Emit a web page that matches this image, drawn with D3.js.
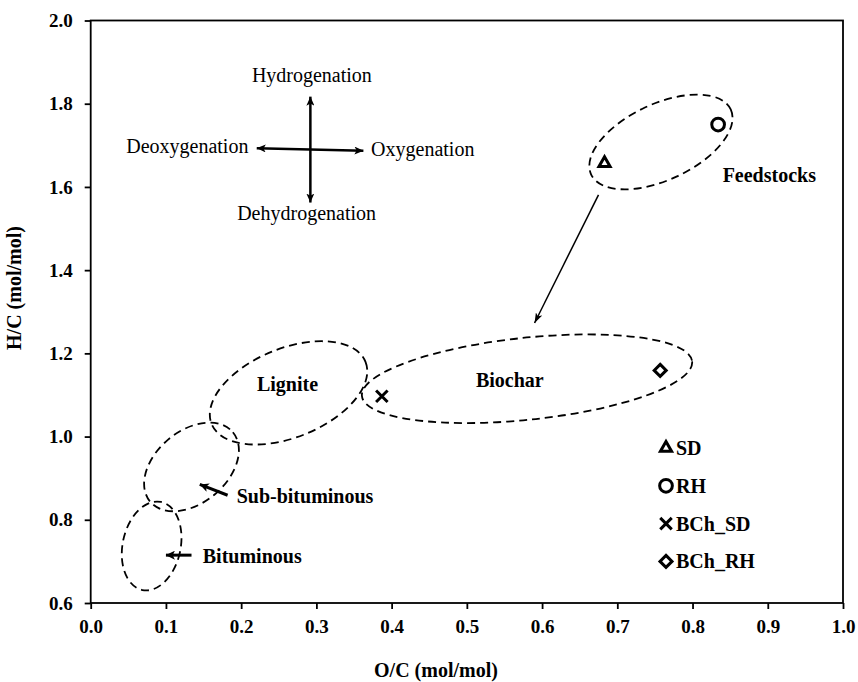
<!DOCTYPE html>
<html>
<head>
<meta charset="utf-8">
<script src="https://cdn.jsdelivr.net/npm/d3@7"></script>
<style>
  body { margin: 0; background: #fff; }
  text { font-family: "Liberation Serif", "Times New Roman", serif; }
</style>
</head>
<body>
<div id="chart"></div>
<script>
// tick values
var xTicks = [0, 0.1, 0.2, 0.3, 0.4, 0.5, 0.6, 0.7, 0.8, 0.9, 1.0]
var yTicks = [0.6, 0.8, 1.0, 1.2, 1.4, 1.6, 1.8, 2.0]

// samples (O/C, H/C)
var seriesNames = ["SD", "RH", "BCh_SD", "BCh_RH"]
var ocValues = [0.683, 0.834, 0.387, 0.757]
var hcValues = [1.657, 1.750, 1.097, 1.159]

// van Krevelen regions (centres in data units)
var regionNames = ["Feedstocks", "Biochar", "Lignite", "Sub-bituminous", "Bituminous"]
var regionCx = [0.758, 0.580, 0.263, 0.134, 0.081]
var regionCy = [1.708, 1.139, 1.105, 0.927, 0.737]
var labelX = [0.840, 0.512, 0.221, 0.194, 0.149]
var labelY = [1.613, 1.119, 1.109, 0.841, 0.697]

// pointer arrows [x1, y1, x2, y2]
var pointerArrows = [
  [0.675, 1.581, 0.590, 1.273],
  [0.182, 0.859, 0.145, 0.885],
  [0.134, 0.715, 0.100, 0.715]
]

// reaction direction cross
var directionNames = ["Hydrogenation", "Dehydrogenation", "Deoxygenation", "Oxygenation"]
var crossLines = [
  [0.292, 1.5625, 0.292, 1.817],
  [0.2207, 1.693, 0.3625, 1.687]
]
var directionX = [0.294, 0.287, 0.2096, 0.3727]
var directionY = [1.853, 1.521, 1.681, 1.675]

// styles
var ellipseRx = [77, 166, 83, 54, 29]
var ellipseRy = [38, 41, 44.5, 36, 45]
var ellipseRot = [-25, -6, -22, -40, 12]
var symbols = [d3.symbolTriangle2, d3.symbolCircle, d3.symbolX, d3.symbolDiamond2]
var symbolSizes = [88, 127, 88, 92]

var W = 858, H = 682
var margin = {top: 20.5, right: 15, bottom: 79, left: 90.7}

var svg = d3.select("#chart").append("svg")
    .attr("width", W)
    .attr("height", H)

var x = d3.scaleLinear().domain([0, 1]).range([margin.left, W - margin.right])
var y = d3.scaleLinear().domain([0.6, 2.0]).range([H - margin.bottom, margin.top])

var defs = svg.append("defs")
function arrowMarker(id, len, wid) {
  defs.append("marker")
      .attr("id", id)
      .attr("markerUnits", "userSpaceOnUse")
      .attr("viewBox", "0 0 " + len + " " + wid)
      .attr("markerWidth", len)
      .attr("markerHeight", wid)
      .attr("refX", len)
      .attr("refY", wid / 2)
      .attr("orient", "auto-start-reverse")
    .append("path")
      .attr("d", "M0,0L" + len + "," + (wid / 2) + "L0," + wid + "L" + (len * 0.25) + "," + (wid / 2) + "Z")
      .attr("fill", "#000")
}
arrowMarker("headCross", 9, 8)
arrowMarker("headThin", 10, 7)
arrowMarker("headThick", 9, 9)

// axes
svg.append("g")
    .attr("transform", "translate(0," + y(0.6) + ")")
    .call(d3.axisBottom(x).tickValues(xTicks).tickSize(6).tickPadding(11).tickFormat(d3.format(".1f")))
    .call(function(g) { g.select(".domain").remove() })
    .call(function(g) {
      g.selectAll("line").attr("stroke-width", 1.8)
      g.selectAll("text").attr("font-size", 19).attr("font-weight", "bold").attr("fill", "#000")
        .style("font-family", "Liberation Serif")
    })

svg.append("g")
    .attr("transform", "translate(" + x(0) + ",0)")
    .call(d3.axisLeft(y).tickValues(yTicks).tickSize(6).tickPadding(12).tickFormat(d3.format(".1f")))
    .call(function(g) { g.select(".domain").remove() })
    .call(function(g) {
      g.selectAll("line").attr("stroke-width", 1.8)
      g.selectAll("text").attr("font-size", 19).attr("font-weight", "bold").attr("fill", "#000")
        .style("font-family", "Liberation Serif")
    })

svg.append("rect")
    .attr("x", x(0))
    .attr("y", y(2.0))
    .attr("width", x(1) - x(0))
    .attr("height", y(0.6) - y(2.0))
    .attr("fill", "none")
    .attr("stroke", "#000")
    .attr("stroke-width", 1.8)

// axis titles
svg.append("text")
    .attr("x", 436)
    .attr("y", 677)
    .attr("text-anchor", "middle")
    .attr("font-size", 20)
    .attr("font-weight", "bold")
    .text("O/C (mol/mol)")

svg.append("text")
    .attr("transform", "translate(21,288) rotate(-90)")
    .attr("text-anchor", "middle")
    .attr("font-size", 20)
    .attr("font-weight", "bold")
    .text("H/C (mol/mol)")

// region ellipses
svg.append("g").selectAll("ellipse")
    .data(regionNames)
  .enter().append("ellipse")
    .attr("transform", function(d, i) {
      return "translate(" + x(regionCx[i]) + "," + y(regionCy[i]) + ") rotate(" + ellipseRot[i] + ")"
    })
    .attr("rx", function(d, i) { return ellipseRx[i] })
    .attr("ry", function(d, i) { return ellipseRy[i] })
    .attr("fill", "none")
    .attr("stroke", "#000")
    .attr("stroke-width", 1.8)
    .attr("stroke-dasharray", "8,5")

svg.append("g").selectAll("text")
    .data(regionNames)
  .enter().append("text")
    .attr("x", function(d, i) { return x(labelX[i]) })
    .attr("y", function(d, i) { return y(labelY[i]) })
    .attr("font-size", 20)
    .attr("font-weight", "bold")
    .text(function(d) { return d })

// pointer arrows
svg.append("g").selectAll("line")
    .data(pointerArrows)
  .enter().append("line")
    .attr("x1", function(d) { return x(d[0]) })
    .attr("y1", function(d) { return y(d[1]) })
    .attr("x2", function(d) { return x(d[2]) })
    .attr("y2", function(d) { return y(d[3]) })
    .attr("stroke", "#000")
    .attr("stroke-width", function(d, i) { return i == 0 ? 1.5 : 3 })
    .attr("marker-end", function(d, i) { return i == 0 ? "url(#headThin)" : "url(#headThick)" })

// direction cross
svg.append("g").selectAll("line")
    .data(crossLines)
  .enter().append("line")
    .attr("x1", function(d) { return x(d[0]) })
    .attr("y1", function(d) { return y(d[1]) })
    .attr("x2", function(d) { return x(d[2]) })
    .attr("y2", function(d) { return y(d[3]) })
    .attr("stroke", "#000")
    .attr("stroke-width", 2.5)
    .attr("marker-start", "url(#headCross)")
    .attr("marker-end", "url(#headCross)")

var anchors = ["middle", "middle", "end", "start"]
svg.append("g").selectAll("text")
    .data(directionNames)
  .enter().append("text")
    .attr("x", function(d, i) { return x(directionX[i]) })
    .attr("y", function(d, i) { return y(directionY[i]) })
    .attr("text-anchor", function(d, i) { return anchors[i] })
    .attr("font-size", 20)
    .text(function(d) { return d })

// data points
svg.append("g").selectAll("path")
    .data(seriesNames)
  .enter().append("path")
    .attr("transform", function(d, i) { return "translate(" + x(ocValues[i]) + "," + y(hcValues[i]) + ")" })
    .attr("d", function(d, i) { return d3.symbol().type(symbols[i]).size(symbolSizes[i])() })
    .attr("fill", "none")
    .attr("stroke", "#000")
    .attr("stroke-width", 3)

// legend
var legend = svg.append("g")
    .attr("transform", "translate(666,448)")

var rows = legend.selectAll("g")
    .data(seriesNames)
  .enter().append("g")
    .attr("transform", function(d, i) { return "translate(0," + (i * 37.8) + ")" })

rows.append("path")
    .attr("d", function(d, i) { return d3.symbol().type(symbols[i]).size(symbolSizes[i])() })
    .attr("fill", "none")
    .attr("stroke", "#000")
    .attr("stroke-width", 3)

rows.append("text")
    .attr("x", 10)
    .attr("y", 7)
    .attr("font-size", 20)
    .attr("font-weight", "bold")
    .text(function(d) { return d })
</script>
</body>
</html>
